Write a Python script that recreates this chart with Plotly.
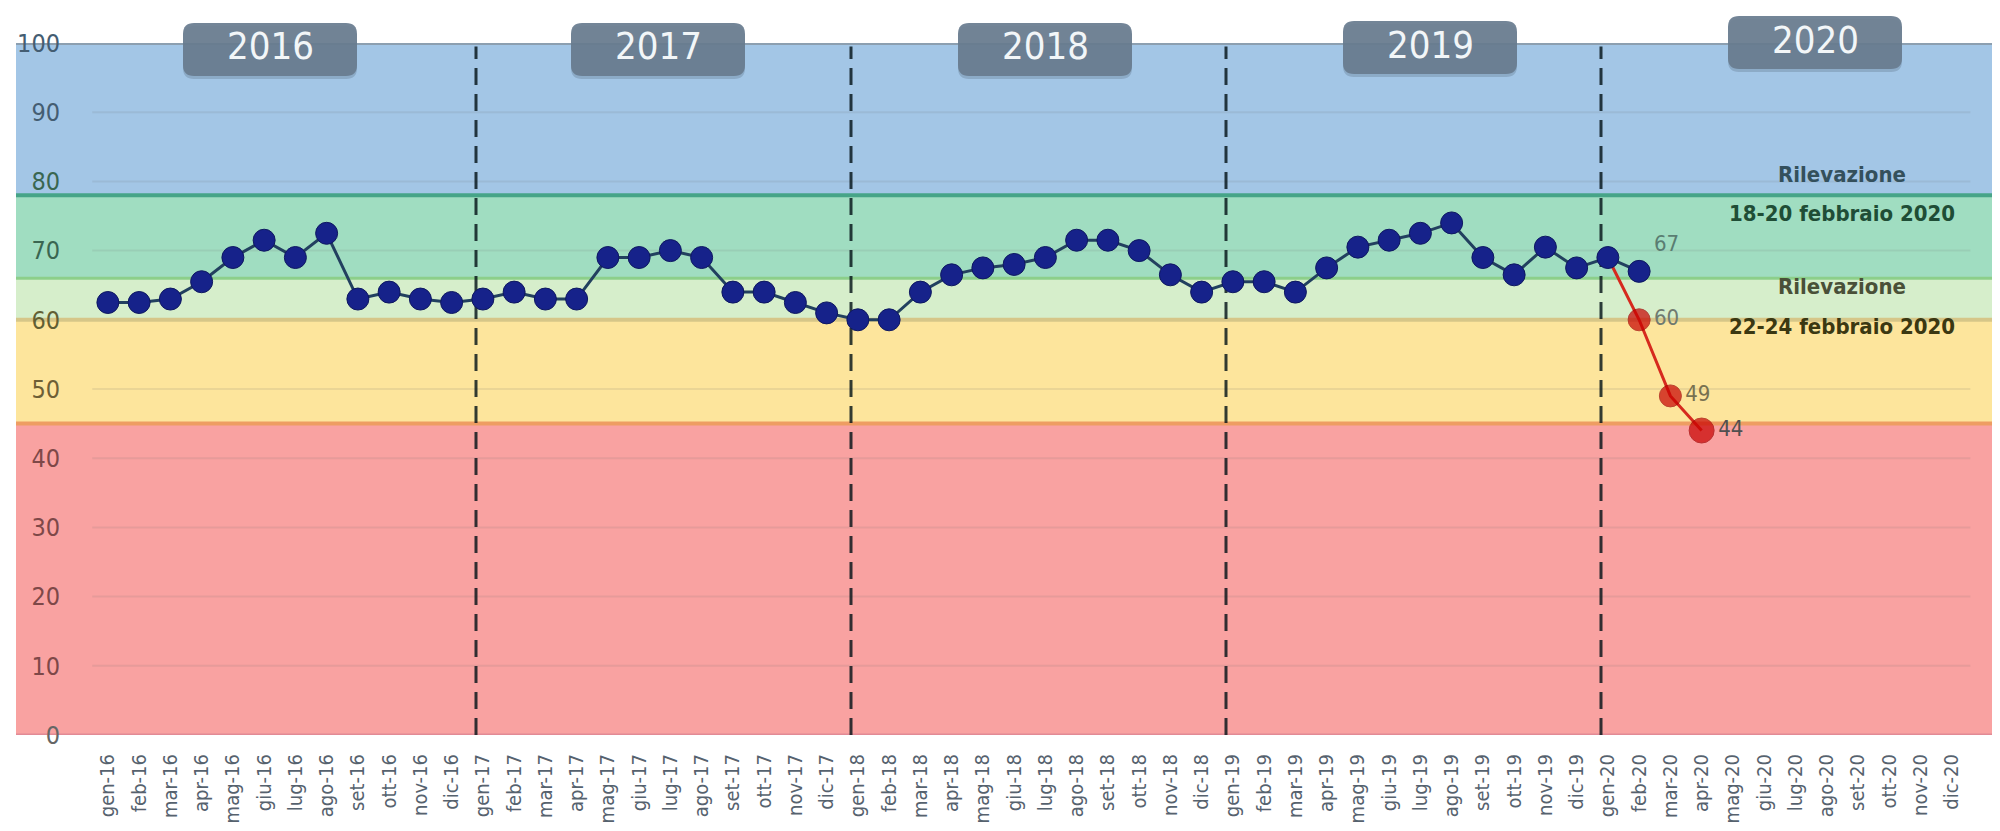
import plotly.graph_objects as go

# ---------------- data ----------------
months = ["gen", "feb", "mar", "apr", "mag", "giu", "lug", "ago", "set", "ott", "nov", "dic"]
years_short = ["16", "17", "18", "19", "20"]
categories = [f"{m}-{y}" for y in years_short for m in months]

year_labels = ["2016", "2017", "2018", "2019", "2020"]

# blue series: gen-16 ... feb-20
blue_values = [
    62.5, 62.5, 63, 65.5, 69, 71.5, 69, 72.5, 63, 64, 63, 62.5,      # 2016
    63, 64, 63, 63, 69, 69, 70, 69, 64, 64, 62.5, 61,                # 2017
    60, 60, 64, 66.5, 67.5, 68, 69, 71.5, 71.5, 70, 66.5, 64,        # 2018
    65.5, 65.5, 64, 67.5, 70.5, 71.5, 72.5, 74, 69, 66.5, 70.5, 67.5,  # 2019
    69, 67,                                                          # 2020
]
blue_months = categories[:len(blue_values)]
blue_point_labels = {"feb-20": "67"}

# red series (later surveys)
red_months = ["gen-20", "feb-20", "mar-20", "apr-20"]
red_values = [69, 60, 49, 44]
red_labels = ["", "60", "49", "44"]

# background zones
band_edges = [0, 45, 60, 66, 78, 100]
band_colors = ["#f9a2a1", "#fde59c", "#d6eecb", "#a0ddc1", "#a3c6e6"]
band_line_colors = ["#e28a95", "#ee9d62", "#d6c688", "#8ccf8a", "#46a488", "#8c9fb0"]

y_ticks = list(range(0, 101, 10))
y_tick_colors = ["#666666", "#7e4848", "#7e4848", "#7e4848", "#7e4848",
                 "#6e5f36", "#625f34", "#3a6651", "#3a6651", "#445d72", "#445d72"]

# --------------- styling helpers ---------------
W, H = 2000, 831
ML, MR, MT, MB = 8, 7, 35, 104
PW, PH = W - ML - MR, H - MT - MB
NARROW = "Liberation Sans Narrow, DejaVu Sans Condensed, Arial Narrow, Arial, sans-serif"


def px_x(p):
    return (p - ML) / PW


def px_y(p):
    return (H - MB - p) / PH


fig = go.Figure()

shapes = []
# bands
for i, col in enumerate(band_colors):
    shapes.append(dict(type="rect", xref="paper", yref="y", x0=0, x1=1,
                       y0=band_edges[i], y1=band_edges[i + 1],
                       fillcolor=col, line=dict(width=0), layer="below"))
# faint grid lines
for v in y_ticks:
    if v in band_edges:
        continue
    shapes.append(dict(type="line", xref="x", yref="y", x0=-0.5, x1=59.6, y0=v, y1=v,
                       line=dict(color="rgba(110,110,110,0.13)", width=2), layer="below"))
# band borders
for v, col in zip(band_edges, band_line_colors):
    shapes.append(dict(type="line", xref="paper", yref="y", x0=0, x1=1, y0=v, y1=v,
                       line=dict(color=col, width=4 if v not in (0, 66) else 3), layer="below"))
# year separators (just before each January)
for k in range(1, len(years_short)):
    xpos = 12 * k - 0.22
    shapes.append(dict(type="line", xref="x", yref="y", x0=xpos, x1=xpos, y0=0, y1=99.5,
                       line=dict(color="rgba(5,20,25,0.82)", width=3, dash="17px,9px"),
                       layer="below"))

# year boxes
box_centers = [262, 650, 1037, 1422, 1807]
box_tops = [15, 15, 15, 13, 8]
box_w, box_h, rad = 174, 53, 11


def rounded_path(xc, top):
    x0, x1 = px_x(xc - box_w / 2), px_x(xc + box_w / 2)
    y0, y1 = px_y(top + box_h), px_y(top)
    rx, ry = rad / PW, rad / PH
    return (f"M {x0+rx},{y0} L {x1-rx},{y0} Q {x1},{y0} {x1},{y0+ry} "
            f"L {x1},{y1-ry} Q {x1},{y1} {x1-rx},{y1} L {x0+rx},{y1} "
            f"Q {x0},{y1} {x0},{y1-ry} L {x0},{y0+ry} Q {x0},{y0} {x0+rx},{y0} Z")


annotations = []
for lab, xc, top in zip(year_labels, box_centers, box_tops):
    shapes.append(dict(type="path", xref="paper", yref="paper", path=rounded_path(xc, top + 3),
                       fillcolor="rgba(40,50,60,0.18)", line=dict(width=0), layer="above"))
    shapes.append(dict(type="path", xref="paper", yref="paper", path=rounded_path(xc, top),
                       fillcolor="rgba(104,124,143,0.93)", line=dict(width=0), layer="above"))
    annotations.append(dict(xref="paper", yref="paper", x=px_x(xc), y=px_y(top + box_h / 2 - 3),
                            text=lab, showarrow=False, xanchor="center", yanchor="middle",
                            font=dict(family=NARROW, size=38, color="#f2f6f8")))

# survey notes
note_x = 55.5
annotations += [
    dict(x=note_x, y=81.0, text="<b>Rilevazione</b>", showarrow=False,
         font=dict(family=NARROW, size=22, color="#34505c")),
    dict(x=note_x, y=75.3, text="<b>18-20 febbraio 2020</b>", showarrow=False,
         font=dict(family=NARROW, size=22, color="#1f4d36")),
    dict(x=note_x, y=64.8, text="<b>Rilevazione</b>", showarrow=False,
         font=dict(family=NARROW, size=22, color="#4a5038")),
    dict(x=note_x, y=59.0, text="<b>22-24 febbraio 2020</b>", showarrow=False,
         font=dict(family=NARROW, size=22, color="#3b3812")),
]

# --------------- traces ---------------
fig.add_trace(go.Scatter(
    x=red_months, y=red_values, mode="lines+markers+text",
    text=red_labels, textposition="middle right",
    textfont=dict(family=NARROW, size=22, color=["#666666", "#707a70", "#787150", "#505050"]),
    line=dict(color="#d62a1e", width=3),
    marker=dict(size=[0, 22, 22, 25], color="#c80000", line=dict(color="#a00000", width=1)),
    hoverinfo="x+y", cliponaxis=False,
))

fig.add_trace(go.Scatter(
    x=blue_months, y=blue_values, mode="lines+markers+text",
    text=[blue_point_labels.get(m, "") for m in blue_months], textposition="top right",
    textfont=dict(family=NARROW, size=22, color="#5a7d72"),
    line=dict(color="#22405f", width=3),
    marker=dict(size=22, color="#16228a", line=dict(color="#0e1860", width=1)),
    hoverinfo="x+y", cliponaxis=False,
))

fig.update_layout(
    width=W, height=H,
    margin=dict(l=ML, r=MR, t=MT, b=MB),
    paper_bgcolor="white", plot_bgcolor="white",
    showlegend=False,
    shapes=shapes, annotations=annotations,
    xaxis=dict(type="category", categoryorder="array", categoryarray=categories,
               range=[-2.94, 60.58], tickmode="array", tickvals=categories, ticktext=categories,
               tickangle=-90, tickfont=dict(family=NARROW, size=20, color="#56626e"),
               showgrid=False, zeroline=False, showline=False, ticks="",
               ticklabelstandoff=14),
    yaxis=dict(range=[0, 100], tickmode="array", tickvals=y_ticks,
               ticktext=[f'<span style="color:{c}">{v}</span>' for v, c in zip(y_ticks, y_tick_colors)],
               tickfont=dict(family=NARROW, size=25, color="#555555"),
               showgrid=False, zeroline=False, showline=False, ticks="",
               anchor="free", position=px_x(52)),
)

fig.write_html("out.html")
